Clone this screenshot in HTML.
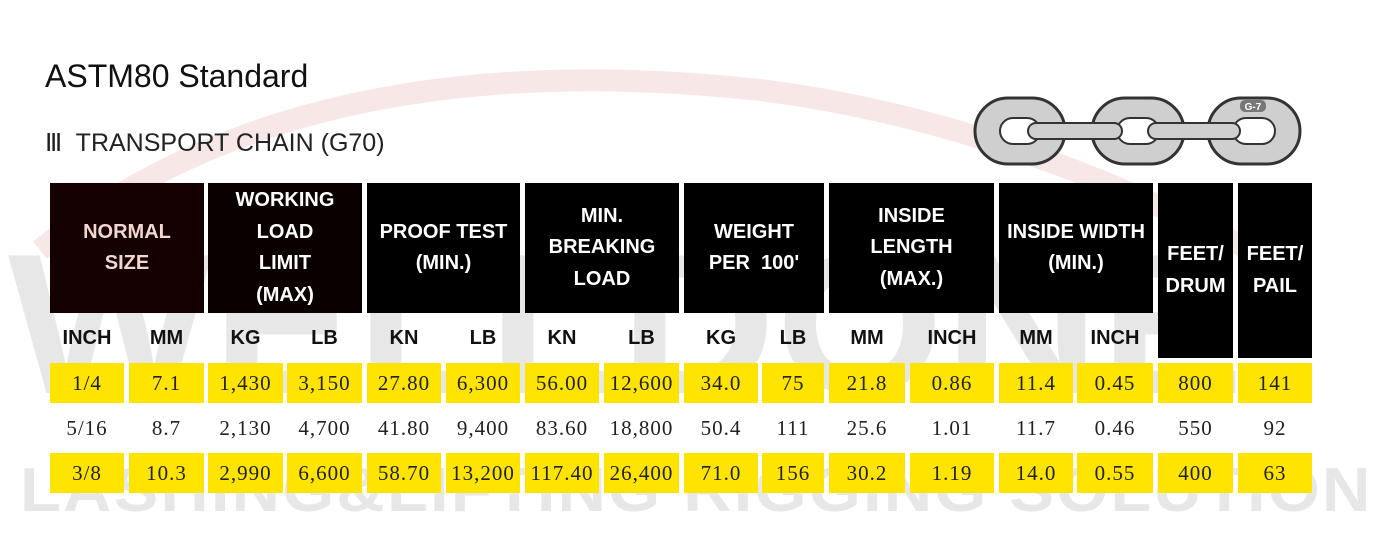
<!DOCTYPE html>
<html><head><meta charset="utf-8"><style>
body{margin:0;width:1373px;height:537px;background:#fff;position:relative;overflow:hidden;font-family:"Liberation Sans",sans-serif}
.a{position:absolute}
.h{position:absolute;background:#000;color:#fff;font-weight:bold;font-size:20px;line-height:31.5px;display:flex;align-items:center;justify-content:center;text-align:center}
.s{position:absolute;font-weight:bold;font-size:20px;color:#111;text-align:center;top:327px}
.c{position:absolute;height:40px;line-height:40px;text-align:center;font-family:"Liberation Serif",serif;font-size:21px;letter-spacing:1px;color:#222}
.y{background:#ffe400}
.wm{position:absolute;color:rgba(120,120,120,.18);font-weight:bold;white-space:nowrap;transform-origin:0 0}
</style></head><body>
<svg class="a" style="left:0;top:0" width="1373" height="537">
<path d="M40 250 Q300 40 760 90 Q1000 120 1250 250" fill="none" stroke="rgba(200,60,60,.12)" stroke-width="22"/>
<g fill="#cfcfcf" stroke="#333" stroke-width="3">
<rect x="975" y="98" width="90" height="66" rx="33"/>
<rect x="1092" y="98" width="92" height="66" rx="33"/>
<rect x="1208" y="98" width="92" height="66" rx="33"/>
</g>
<g fill="#fff" stroke="#333" stroke-width="2">
<rect x="1000" y="118" width="40" height="26" rx="13"/>
<rect x="1117" y="118" width="42" height="26" rx="13"/>
<rect x="1233" y="118" width="42" height="26" rx="13"/>
</g>
<g fill="#cfcfcf" stroke="#333" stroke-width="2">
<rect x="1028" y="123" width="94" height="16" rx="8"/>
<rect x="1148" y="123" width="92" height="16" rx="8"/>
</g>
<rect x="1240" y="100" width="26" height="12" rx="5" fill="#777"/>
<text x="1253" y="110" font-size="10" fill="#fff" text-anchor="middle" font-family="Liberation Sans" font-weight="bold">G-7</text>
</svg>
<div class="wm" style="left:8px;top:225px;font-size:200px;line-height:200px;transform:scaleX(1.08)">WELLDONE</div>
<div class="wm" style="left:20px;top:458px;font-size:62px;line-height:66px;letter-spacing:2px;transform:scaleX(1.08)">LASHING&amp;LIFTING RIGGING SOLUTION</div>
<div class="a" style="left:45px;top:58px;font-size:32px;color:#111">ASTM80 Standard</div>
<div class="a" style="left:45px;top:128px;font-size:25px;color:#222">Ⅲ&nbsp; TRANSPORT CHAIN (G70)</div>

<div class="h" style="left:50px;top:183px;width:154px;height:130px;background:#140000;color:#f3d6cf">NORMAL<br>SIZE</div>
<div class="h" style="left:208px;top:183px;width:154px;height:130px;background:#0a0000">WORKING<br>LOAD<br>LIMIT<br>(MAX)</div>
<div class="h" style="left:367px;top:183px;width:153px;height:130px">PROOF TEST<br>(MIN.)</div>
<div class="h" style="left:525px;top:183px;width:154px;height:130px">MIN.<br>BREAKING<br>LOAD</div>
<div class="h" style="left:684px;top:183px;width:140px;height:130px">WEIGHT<br>PER&nbsp; 100'</div>
<div class="h" style="left:829px;top:183px;width:165px;height:130px">INSIDE<br>LENGTH<br>(MAX.)</div>
<div class="h" style="left:999px;top:183px;width:154px;height:130px">INSIDE WIDTH<br>(MIN.)</div>
<div class="h" style="left:1158px;top:183px;width:75px;height:175px">FEET/<br>DRUM</div>
<div class="h" style="left:1238px;top:183px;width:74px;height:175px">FEET/<br>PAIL</div>

<div id="t"></div>
<script>
var cols=[[50,74],[129,75],[208,75],[287,75],[367,74],[446,74],[525,74],[604,75],[684,74],[762,62],[829,76],[910,84],[999,74],[1077,76],[1158,75],[1238,74]];
var sub=["INCH","MM","KG","LB","KN","LB","KN","LB","KG","LB","MM","INCH","MM","INCH"];
var rows=[["1/4","7.1","1,430","3,150","27.80","6,300","56.00","12,600","34.0","75","21.8","0.86","11.4","0.45","800","141"],
["5/16","8.7","2,130","4,700","41.80","9,400","83.60","18,800","50.4","111","25.6","1.01","11.7","0.46","550","92"],
["3/8","10.3","2,990","6,600","58.70","13,200","117.40","26,400","71.0","156","30.2","1.19","14.0","0.55","400","63"]];
var h="",tops=[363,408,453];
sub.forEach(function(s,i){h+='<div class="s" style="left:'+cols[i][0]+'px;width:'+cols[i][1]+'px">'+s+'</div>'});
rows.forEach(function(r,j){r.forEach(function(v,i){h+='<div class="c'+(j!=1?' y':'')+'" style="left:'+cols[i][0]+'px;width:'+cols[i][1]+'px;top:'+tops[j]+'px">'+v+'</div>'})});
document.getElementById("t").innerHTML=h;
</script>
</body></html>
